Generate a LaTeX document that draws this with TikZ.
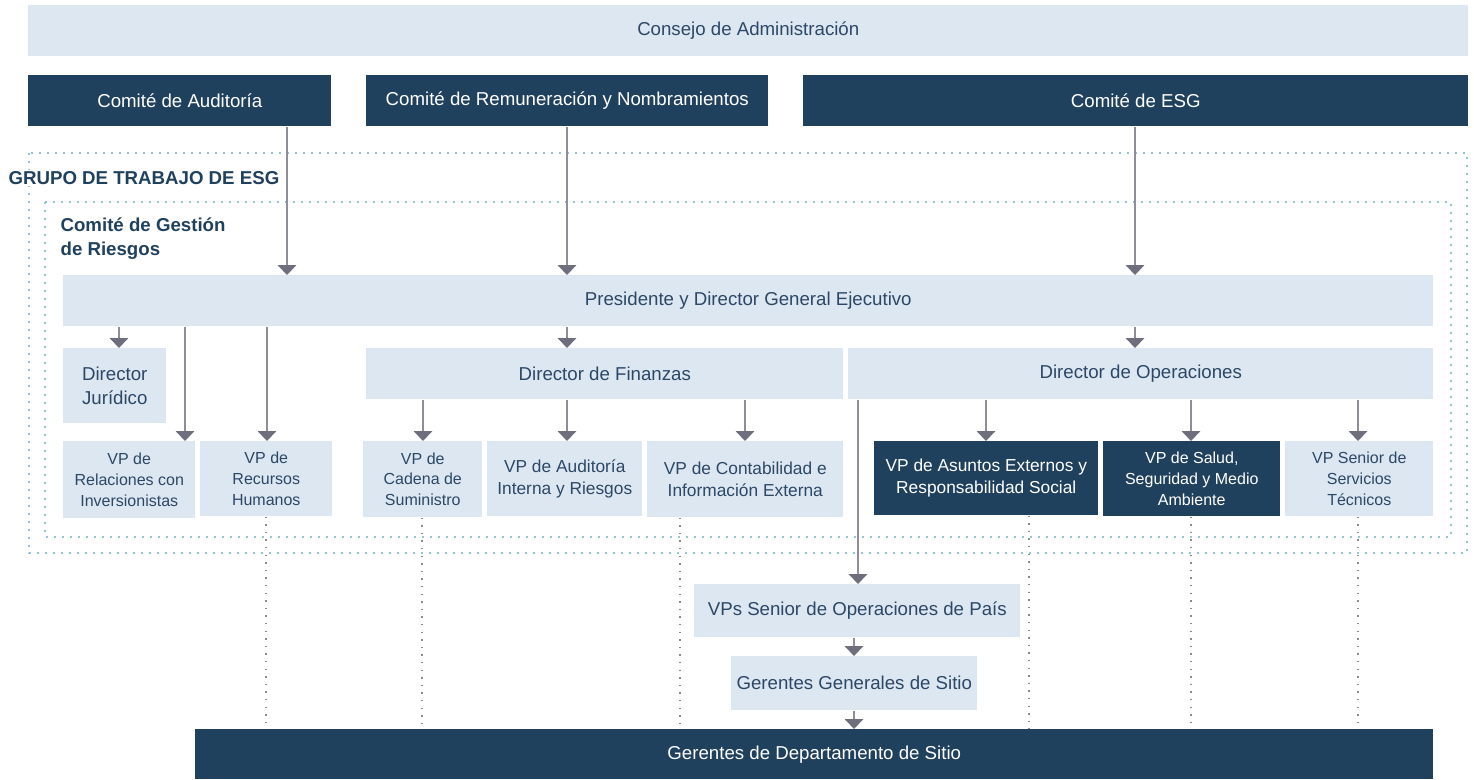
\documentclass[tikz,border=0pt]{standalone}
\usepackage{fontspec}
\setmainfont{Liberation Sans}
\usetikzlibrary{arrows.meta}

\definecolor{boxlight}{HTML}{DCE7F1}
\definecolor{boxdark}{HTML}{20415E}
\definecolor{boxtext}{HTML}{2C4866}
\definecolor{linegray}{HTML}{8E8D99}
\definecolor{tipgray}{HTML}{6F6E7D}
\definecolor{dotgray}{HTML}{8A8A8A}
\definecolor{groupdot}{HTML}{92C6D7}

\tikzset{
  wd/.style={minimum width=#1*0.75pt},
  ht/.style={minimum height=#1*0.75pt},
  lightbox/.style={fill=boxlight, text=boxtext, inner sep=0pt, anchor=north west, align=center},
  darkbox/.style={fill=boxdark, text=white, inner sep=0pt, anchor=north west, align=center},
  big/.style={font=\fontsize{14}{18}\selectfont},
  mid/.style={font=\fontsize{13}{16.5}\selectfont},
  small/.style={font=\fontsize{12}{15.4}\selectfont},
  arr/.style={draw=linegray, line width=0.9pt, -{Triangle[width=14pt,length=7.5pt,color=tipgray]}},
  dotline/.style={draw=dotgray, line width=1.1pt, dash pattern=on 1.1pt off 4.6pt},
  groupline/.style={draw=groupdot, line width=1.6pt, dash pattern=on 1.6pt off 4.4pt},
  grouplabel/.style={font=\bfseries\fontsize{14}{18}\selectfont, text=boxdark, align=left, inner sep=1pt}
}

\begin{document}
\begin{tikzpicture}[x=0.75pt, y=-0.75pt]
\useasboundingbox (0,0) rectangle (1474,779);

% Draw the dotted group frames
\draw[groupline] (29,153) rectangle (1467,553);
\draw[groupline] (45,202) rectangle (1451,537);
\node[grouplabel, fill=white, anchor=west] (grupo) at (7,178) {GRUPO DE TRABAJO DE ESG};
\node[grouplabel, anchor=north west] (riesgos) at (59,216) {Comité de Gestión\\de Riesgos};

% Draw the board and committees
\node[lightbox, big, wd=1440, ht=51] (consejo) at (28,5) {Consejo de Administración};
\node[darkbox, big, wd=303, ht=51] (audit) at (28,75) {Comité de Auditoría};
\node[darkbox, big, wd=402, ht=51] (remun) at (366,75) {Comité de Remuneración y Nombramientos};
\node[darkbox, big, wd=665, ht=51] (esg) at (803,75) {Comité de ESG};

% Draw the executive boxes
\node[lightbox, big, wd=1370, ht=51] (pres) at (63,275) {Presidente y Director General Ejecutivo};
\node[lightbox, big, wd=103, ht=75] (jur) at (63,348) {Director\\Jurídico};
\node[lightbox, big, wd=477, ht=51] (fin) at (366,348) {Director de Finanzas};
\node[lightbox, big, wd=585, ht=51] (ops) at (848,348) {Director de Operaciones};

% Draw the VP boxes
\node[lightbox, small, wd=132, ht=77] (vpir) at (63,441) {VP de\\Relaciones con\\Inversionistas};
\node[lightbox, small, wd=132, ht=75] (vprh) at (200,441) {VP de\\Recursos\\Humanos};
\node[lightbox, small, wd=119, ht=76] (vpsc) at (363,441) {VP de\\Cadena de\\Suministro};
\node[lightbox, mid, wd=155, ht=75] (vpai) at (487,441) {VP de Auditoría\\Interna y Riesgos};
\node[lightbox, mid, wd=196, ht=76] (vpce) at (647,441) {VP de Contabilidad e\\Información Externa};
\node[darkbox, mid, wd=224, ht=74] (vpae) at (874,441) {VP de Asuntos Externos y\\Responsabilidad Social};
\node[darkbox, small, wd=177, ht=75] (vpss) at (1103,441) {VP de Salud,\\Seguridad y Medio\\Ambiente};
\node[lightbox, small, wd=148, ht=75] (vpst) at (1285,441) {VP Senior de\\Servicios\\Técnicos};

% Draw the site level
\node[lightbox, big, wd=326, ht=53] (vpso) at (694,584) {VPs Senior de Operaciones de País};
\node[lightbox, big, wd=246, ht=54] (ggs) at (731,656) {Gerentes Generales de Sitio};
\node[darkbox, big, wd=1238, ht=50] (dept) at (195,729) {Gerentes de Departamento de Sitio};

% Draw the reporting arrows
\foreach \xx/\src/\dst in {287/audit/pres, 567/remun/pres, 1135/esg/pres,
    119/pres/jur, 185/pres/vpir, 267/pres/vprh, 567/pres/fin, 1135/pres/ops,
    423/fin/vpsc, 567/fin/vpai, 745/fin/vpce,
    858/ops/vpso, 986/ops/vpae, 1191/ops/vpss, 1358/ops/vpst,
    854/vpso/ggs, 854/ggs/dept}
  \draw[arr] (\xx,0 |- \src.south) -- (\xx,0 |- \dst.north);

% Draw the dotted links to the department managers
\foreach \xx/\src in {266/vprh, 422/vpsc, 680/vpce, 1029/vpae, 1191/vpss, 1358/vpst}
  \draw[dotline] (\xx,0 |- \src.south) -- (\xx,0 |- dept.north);
\end{tikzpicture}
\end{document}
